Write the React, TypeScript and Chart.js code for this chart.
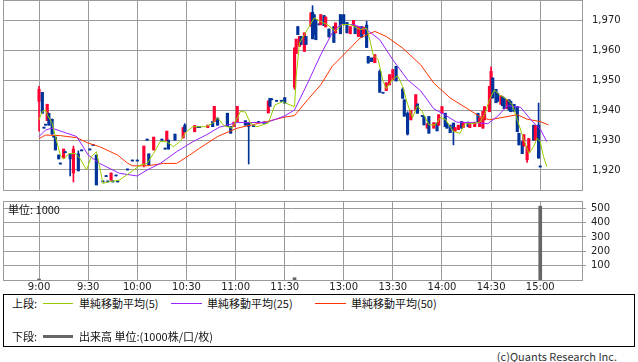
import React, { useEffect, useRef } from 'react';
import { Chart, registerables } from 'chart.js';

Chart.register(...registerables);

// x values are trading-minute indexes: 0 = 9:00 ... 150 = 11:30, 156 = 12:30 ... 306 = 15:00
const timeTickMin = [0, 30, 60, 90, 120, 150, 186, 216, 246, 276, 306];
const timeTickLabels = ['9:00', '9:30', '10:00', '10:30', '11:00', '11:30', '13:00', '13:30', '14:00', '14:30', '15:00'];
const priceTicks = [1920, 1930, 1940, 1950, 1960, 1970];
const volumeTicks = [100, 200, 300, 400, 500];

const candleMin = [
  0, 2, 3, 4, 5, 6, 8, 9, 10, 12, 13, 15, 16, 19, 21, 24, 26, 31, 33, 35,
  39, 41, 42, 44, 45, 47, 48, 54, 57, 60, 64, 66, 67, 70, 75, 77, 78, 79, 83, 88,
  89, 95, 97, 98, 103, 106, 107, 109, 115, 117, 119, 121, 126, 128, 131, 134, 137, 138, 140, 141,
  142, 145, 148, 150,
  156, 157, 158, 159, 160, 162, 163, 166, 167, 168, 169, 171, 172, 174, 175, 177, 180, 181, 184, 186,
  188, 190, 192, 193, 195, 197, 198, 200, 201, 203, 205, 208, 210, 212, 214, 216, 218, 222, 223, 225,
  227, 230, 231, 234, 235, 237, 238, 241, 243, 244, 246, 248, 249, 251, 253, 254, 256, 258, 259, 262,
  263, 266, 268, 269, 271, 272, 275, 276, 277, 279, 280, 282, 283, 284, 286, 287, 288, 290, 292, 293,
  295, 296, 298, 299, 302, 303, 305, 306,
];
const candleOpen = [
  1943, 1946, 1934, 1935, 1936.5, 1939, 1937, 1931, 1931, 1925,
  1922, 1924, 1925.8, 1925.4, 1919, 1925.4, 1926.4, 1926.7, 1928.2, 1925,
  1916, 1917.8, 1916, 1916.6, 1916, 1918, 1916, 1920, 1923, 1923,
  1921.7, 1930, 1925.4, 1926.7, 1930, 1927, 1929.8, 1930, 1932, 1930.7,
  1935, 1932.8, 1934.2, 1934.2, 1934.2, 1936.2, 1936.2, 1937.4, 1939, 1934.5,
  1934.5, 1936.2, 1936.5, 1935.7, 1934.5, 1935.9, 1935.7, 1935.7, 1939.1, 1944,
  1943.5, 1943, 1943, 1944.2,
  1947.7, 1959, 1968, 1961.4, 1964.7, 1959.7, 1964.7, 1968.1, 1972.8, 1972,
  1970.3, 1968.6, 1968.6, 1971.7, 1967.9, 1967.2, 1968, 1965.9, 1972, 1972,
  1969.4, 1965.6, 1968.3, 1968, 1964.7, 1968, 1965.5, 1968.5, 1958, 1957.5,
  1955.9, 1953, 1945.7, 1946.6, 1948.5, 1950.2, 1954.7, 1947, 1943.5, 1939,
  1936.8, 1940, 1942.1, 1937.9, 1937.9, 1934, 1937.9, 1934, 1935.8, 1935,
  1939, 1939, 1935.5, 1935, 1935.7, 1933, 1933.5, 1936.2, 1934.2, 1936,
  1934.2, 1934.5, 1939, 1934.5, 1934, 1936.8, 1939.5, 1944, 1950.8, 1947,
  1945.7, 1942, 1944.5, 1944.1, 1940.5, 1943.5, 1943, 1942, 1941.2, 1932.3,
  1929.5, 1928, 1923.4, 1926, 1935, 1930, 1935, 1921,
];
const candleHigh = [
  1948, 1946, 1934, 1935, 1942, 1939, 1937, 1931, 1931, 1925,
  1922, 1927, 1925.8, 1925.4, 1928, 1926.4, 1926.4, 1926.7, 1928.2, 1925,
  1916, 1917.8, 1916, 1919, 1916, 1918, 1916, 1920, 1923, 1923,
  1928, 1930, 1925.4, 1931, 1930, 1927, 1933, 1930, 1932, 1934.2,
  1935.5, 1934.9, 1934.2, 1934.2, 1935, 1936.2, 1941.3, 1937.4, 1939, 1934.5,
  1936, 1941.3, 1936.5, 1936, 1934.5, 1935.9, 1935.7, 1935.7, 1943.1, 1944,
  1943.5, 1943, 1943, 1944.2,
  1961, 1963.8, 1968, 1964.7, 1964.7, 1965.9, 1964.7, 1972.6, 1975, 1972,
  1970.3, 1968.6, 1972, 1971.7, 1971.2, 1967.2, 1968, 1969.2, 1972, 1972,
  1969.4, 1968, 1970.1, 1968, 1968, 1968, 1967.8, 1969.8, 1958, 1957.5,
  1958.6, 1953.5, 1945.7, 1949.2, 1951.9, 1953.6, 1954.7, 1947.5, 1943.5, 1939.5,
  1940, 1945.2, 1942.1, 1937.9, 1937.9, 1935.5, 1937.9, 1935.8, 1935.8, 1938.5,
  1941.2, 1939, 1935.5, 1935, 1935.7, 1934.2, 1935, 1936.2, 1935.8, 1936,
  1935.5, 1936, 1939, 1937.4, 1939.6, 1941.2, 1948, 1954.5, 1950.8, 1947,
  1945.7, 1944.8, 1944.5, 1944.1, 1943.5, 1943.5, 1943, 1942, 1941.2, 1932.3,
  1929.5, 1931.8, 1927.8, 1930.5, 1935, 1934.8, 1942.4, 1921,
];
const candleLow = [
  1933, 1939, 1934, 1935, 1936.5, 1935, 1932, 1931, 1926.7, 1923.7,
  1922, 1924, 1925.8, 1918, 1916, 1919.7, 1926.4, 1926.7, 1928.2, 1915,
  1916, 1917.8, 1916, 1916.6, 1916, 1918, 1916, 1920, 1923, 1923,
  1921, 1930, 1921.7, 1926.7, 1930, 1927, 1929.8, 1927, 1930, 1930.7,
  1932.8, 1932.8, 1934.2, 1934.2, 1934.2, 1934.5, 1936.2, 1935, 1934.5, 1932.3,
  1934.5, 1936.2, 1935, 1922, 1934.5, 1935.9, 1935.7, 1935.7, 1939.1, 1941.3,
  1943.5, 1943, 1943, 1942.4,
  1947, 1959, 1965.3, 1961.4, 1962, 1959.7, 1962, 1968.1, 1963.9, 1965.3,
  1963.6, 1968.6, 1968.6, 1968.3, 1967.9, 1964.5, 1962.7, 1965.9, 1965.6, 1968.6,
  1965.9, 1965.6, 1968.3, 1965.6, 1964.7, 1964.5, 1965.5, 1961, 1955.8, 1956.3,
  1955.9, 1946, 1945.7, 1946.6, 1948.5, 1950.2, 1949.8, 1944, 1938, 1931.7,
  1936.8, 1940, 1939, 1937.9, 1935.1, 1934, 1932.3, 1934, 1933.1, 1935,
  1939, 1934.5, 1934, 1932.5, 1928.4, 1933, 1933.5, 1934, 1934.2, 1934.5,
  1934.2, 1934.5, 1936.2, 1934.5, 1934, 1936.8, 1939.5, 1944, 1944.1, 1942.5,
  1943, 1942, 1941.5, 1940.5, 1940.5, 1940, 1939.5, 1939.6, 1932.8, 1928.4,
  1925.5, 1928, 1922.5, 1926, 1930, 1930, 1923.9, 1921,
];
const candleClose = [
  1947, 1939, 1934, 1935, 1942, 1935, 1932, 1931, 1926.7, 1923.7,
  1922, 1927, 1925.8, 1923.7, 1927, 1919.7, 1926.4, 1926.7, 1928.2, 1915,
  1916, 1917.8, 1916, 1919, 1916, 1918, 1916, 1920, 1923, 1923,
  1928, 1930, 1921.7, 1931, 1930, 1927, 1933, 1927, 1930, 1934.2,
  1932.8, 1934.9, 1934.2, 1934.2, 1935, 1934.5, 1941.3, 1935, 1934.5, 1932.3,
  1936, 1941.3, 1935, 1934.5, 1934.5, 1935.9, 1935.7, 1935.7, 1943.1, 1941.3,
  1943.5, 1943, 1943, 1942.4,
  1960.8, 1963.8, 1965.3, 1964.7, 1962, 1965.9, 1962, 1972.6, 1963.9, 1965.3,
  1963.6, 1968.6, 1972, 1968.3, 1971.2, 1964.5, 1962.7, 1969.2, 1965.6, 1968.6,
  1965.9, 1968, 1970.1, 1965.6, 1968, 1964.5, 1967.8, 1961, 1955.8, 1956.3,
  1958.6, 1946, 1945.7, 1949.2, 1951.9, 1953.6, 1949.8, 1944, 1938, 1932,
  1940, 1945.2, 1939, 1937.9, 1935.1, 1935.5, 1932.3, 1935.8, 1933.1, 1938.5,
  1941.2, 1934.5, 1934, 1932.5, 1933.5, 1934.2, 1935, 1934, 1935.8, 1934.5,
  1935.5, 1936, 1936.2, 1937.4, 1939.6, 1941.2, 1948, 1953, 1944.1, 1942.5,
  1943, 1944.8, 1941.5, 1940.5, 1943.5, 1940, 1939.5, 1939.6, 1932.8, 1928.4,
  1925.5, 1931.8, 1927.8, 1930.5, 1930, 1934.8, 1924, 1921,
];

const ma5Min = [
  0, 2, 4, 5, 8, 10, 13, 15, 18, 22, 25, 29, 32, 35, 37, 39, 43, 49, 55, 62,
  66, 70, 74, 78, 82, 86, 90, 94, 102, 106, 109, 113, 118, 123, 126, 129, 133, 140, 144, 149,
  150, 156, 157, 159, 162, 165, 168, 173, 176, 181, 185, 190, 196, 200, 202, 204, 207, 210, 212, 216,
  219, 222, 225, 228, 231, 234, 238, 242, 245, 248, 253, 257, 260, 264, 269, 272, 275, 278, 281, 286,
  289, 292, 296, 299, 302, 304, 306, 308, 310,
];
const ma5Val = [
  1936.8, 1939.6, 1940.1, 1938.5, 1935.7, 1931.2, 1925, 1923.6, 1925.4, 1925.6,
  1923.9, 1920, 1924.5, 1926.1, 1921.1, 1915.5, 1916.1, 1916.6, 1918.9, 1921.7,
  1922.2, 1925.6, 1929.5, 1929.5, 1927.8, 1929.5, 1932.8, 1934.5, 1934.5, 1935.7,
  1937.5, 1934.8, 1934, 1939.6, 1939.4, 1935.7, 1934.5, 1935.7, 1941.8, 1942.9,
  1942.5, 1941.2, 1951.3, 1962.5, 1965.3, 1968.1, 1970.9, 1969.4, 1968.7, 1966.4,
  1968.7, 1968.7, 1967, 1967.5, 1963.5, 1958.5, 1957, 1949.8, 1947.2, 1950.5,
  1951.5, 1948, 1942, 1937.5, 1941.5, 1939.5, 1935.1, 1935.1, 1937.5, 1937,
  1932.9, 1932.3, 1935.4, 1935.5, 1935.9, 1938.5, 1943.5, 1946.8, 1945.2, 1943.5,
  1941.8, 1936.8, 1930.1, 1925.6, 1927.8, 1930.6, 1929.5, 1924.5, 1921.1,
];
const ma25Min = [
  0, 4, 8, 17, 23, 30, 37, 49, 60, 66, 74, 84, 94, 102, 110, 121, 139, 150, 156, 164,
  172, 179, 184, 192, 200, 208, 216, 225, 233, 241, 247, 255, 267, 274, 280, 286, 294, 300, 306, 310,
];
const ma25Val = [
  1931.2, 1933.4, 1934, 1932.3, 1931.2, 1925, 1922.2, 1918.9, 1918, 1920,
  1922.2, 1926.1, 1929.5, 1931.7, 1934.3, 1935.9, 1935.9, 1938.1, 1940.1, 1949.1,
  1958.6, 1965.9, 1968.7, 1968.7, 1967, 1963.6, 1956.9, 1950.2, 1946.5, 1940.5,
  1938.7, 1936, 1935.8, 1935.5, 1938, 1941.5, 1941, 1937, 1933.7, 1929.5,
];
const ma50Min = [
  0, 4, 13, 23, 30, 37, 48, 54, 57, 66, 76, 84, 92, 98, 109, 121, 139, 150, 156, 164,
  172, 179, 188, 196, 205, 212, 222, 233, 241, 251, 261, 269, 275, 281, 292, 298, 306, 311,
];
const ma50Val = [
  1930.5, 1931.7, 1931.5, 1930.8, 1929, 1927.8, 1925, 1922.3, 1921.4, 1921.4,
  1922.2, 1922.2, 1925, 1927.3, 1931.2, 1934, 1936.2, 1937.7, 1938.2, 1943.5,
  1948.5, 1954.7, 1959.7, 1964.2, 1966.4, 1964.7, 1960.8, 1955.2, 1949.1, 1944.1,
  1940.7, 1937.9, 1936.8, 1937.4, 1938.5, 1937, 1936.2, 1935.1,
];

const volumeMin = [0, 156, 306];
const volumeValue = [7, 16, 515];

const X_MIN = -22;
const X_MAX = 331.5;
const UP = '#ff0033';
const DOWN = '#003399';
const GRID = '#9a9a9a';
const TICK_FONT = { family: '"DejaVu Sans", sans-serif', size: 10 };
const TEXT_FONT = '"Noto Sans CJK JP", "Noto Sans", sans-serif';

const toPoints = (xs: number[], ys: number[]) => xs.map((x, i) => ({ x, y: ys[i] }));

const frame = {
  id: 'frame',
  afterDatasetsDraw(chart: any) {
    const { left, top, right, bottom } = chart.chartArea;
    const ctx = chart.ctx;
    ctx.save();
    ctx.strokeStyle = GRID;
    ctx.lineWidth = 1;
    const l = Math.round(left) + 0.5;
    const t = Math.round(top) + 0.5;
    ctx.strokeRect(l, t, Math.round(right) - Math.round(left), Math.round(bottom) - Math.round(top));
    ctx.restore();
  },
};

// vertical axis: the labels sit well inside the plot, so no extra edge room is needed
const fitRightAxis = (s: any) => {
  s.width = 56;
  s.paddingTop = 0;
  s.paddingBottom = 0;
};

function PriceChart() {
  const ref = useRef<HTMLCanvasElement>(null);
  useEffect(() => {
    const colors = candleMin.map((_, i) => (candleClose[i] > candleOpen[i] ? UP : DOWN));
    const chart = new Chart(ref.current as HTMLCanvasElement, {
      type: 'bar',
      data: {
        datasets: [
          { type: 'line', label: 'MA5', data: toPoints(ma5Min, ma5Val), borderColor: '#99cc00', borderWidth: 1, pointRadius: 0, order: 1 } as any,
          { type: 'line', label: 'MA25', data: toPoints(ma25Min, ma25Val), borderColor: '#9922ff', borderWidth: 1, pointRadius: 0, order: 1 } as any,
          { type: 'line', label: 'MA50', data: toPoints(ma50Min, ma50Val), borderColor: '#ff3300', borderWidth: 1, pointRadius: 0, order: 1 } as any,
          {
            type: 'bar', label: 'wick',
            data: candleMin.map((m, i) => ({ x: m, y: [candleLow[i], candleHigh[i]] })),
            backgroundColor: colors, barThickness: 1, grouped: false, minBarLength: 1, order: 3,
          } as any,
          {
            type: 'bar', label: 'body',
            data: candleMin.map((m, i) => ({ x: m, y: [candleOpen[i], candleClose[i]] })),
            backgroundColor: colors, barThickness: 2.5, grouped: false, minBarLength: 1, order: 2,
          } as any,
        ],
      },
      options: {
        responsive: false,
        animation: false,
        events: [],
        layout: { padding: { left: 3, top: 0, right: 0, bottom: 1 } },
        plugins: { legend: { display: false }, tooltip: { enabled: false } },
        scales: {
          x: {
            type: 'linear', min: X_MIN, max: X_MAX, offset: false,
            afterBuildTicks: (s: any) => { s.ticks = timeTickMin.map((v) => ({ value: v })); },
            afterFit: (s: any) => { s.height = 0; },
            ticks: { display: false },
            grid: { color: GRID, drawTicks: false, offset: false },
            border: { display: false },
          },
          y: {
            position: 'right', min: 1913.3, max: 1976.9, offset: false,
            afterBuildTicks: (s: any) => { s.ticks = priceTicks.map((v) => ({ value: v })); },
            afterFit: fitRightAxis,
            ticks: { padding: 10, color: '#222', font: TICK_FONT, callback: (v: any) => Number(v).toLocaleString('en-US') },
            grid: { color: GRID, drawTicks: false, offset: false },
            border: { display: false },
          },
        },
      } as any,
      plugins: [frame],
    });
    return () => chart.destroy();
  }, []);
  return <canvas ref={ref} width={638} height={191} style={{ position: 'absolute', left: 0, top: 0 }} />;
}

function VolumeChart() {
  const ref = useRef<HTMLCanvasElement>(null);
  useEffect(() => {
    const chart = new Chart(ref.current as HTMLCanvasElement, {
      type: 'bar',
      data: {
        datasets: [
          { label: '出来高', data: toPoints(volumeMin, volumeValue), backgroundColor: '#666666', barThickness: 3 } as any,
        ],
      },
      options: {
        responsive: false,
        animation: false,
        events: [],
        layout: { padding: { left: 3, top: 9, right: 0, bottom: 0 } },
        plugins: { legend: { display: false }, tooltip: { enabled: false } },
        scales: {
          x: {
            type: 'linear', min: X_MIN, max: X_MAX, offset: false,
            afterBuildTicks: (s: any) => { s.ticks = timeTickMin.map((v) => ({ value: v })); },
            afterFit: (s: any) => { s.height = 14; s.paddingLeft = 0; s.paddingRight = 0; },
            ticks: {
              padding: 1, autoSkip: false, maxRotation: 0, color: '#222', font: TICK_FONT,
              callback: (v: any) => timeTickLabels[timeTickMin.indexOf(Number(v))] ?? '',
            },
            grid: { color: GRID, drawTicks: false, offset: false },
            border: { display: false },
          },
          y: {
            position: 'right', min: 0, max: 551, offset: false,
            afterBuildTicks: (s: any) => { s.ticks = volumeTicks.map((v) => ({ value: v })); },
            afterFit: fitRightAxis,
            ticks: { padding: 5, color: '#222', font: TICK_FONT },
            grid: { color: GRID, drawTicks: true, tickLength: 4, offset: false },
            border: { display: false },
          },
        },
      } as any,
      plugins: [frame],
    });
    return () => chart.destroy();
  }, []);
  return <canvas ref={ref} width={638} height={102} style={{ position: 'absolute', left: 0, top: 192 }} />;
}

const textStyle = (left: number, centerY: number): React.CSSProperties => ({
  position: 'absolute', left, top: centerY - 8, height: 16, lineHeight: '16px',
  fontFamily: TEXT_FONT, fontSize: 11, color: '#111', whiteSpace: 'nowrap',
});

const lineStyle = (left: number, y: number, width: number, color: string, h = 1): React.CSSProperties => ({
  position: 'absolute', left, top: y, width, height: h, background: color,
});

export default function App() {
  return (
    <div style={{ position: 'absolute', left: 0, top: 0, width: 638, height: 362, background: '#fff', overflow: 'hidden' }}>
      <PriceChart />
      <VolumeChart />
      <div style={textStyle(8, 209)}>単位: 1000</div>
      <div style={{ position: 'absolute', left: 3, top: 294, width: 632, height: 53, border: '1px solid #000', boxSizing: 'border-box' }} />
      <div style={textStyle(12, 303)}>上段:</div>
      <div style={lineStyle(43, 303, 30, '#99cc00')} />
      <div style={textStyle(79, 303)}>単純移動平均(5)</div>
      <div style={lineStyle(171, 303, 31, '#9922ff')} />
      <div style={textStyle(207, 303)}>単純移動平均(25)</div>
      <div style={lineStyle(315, 303, 31, '#ff3300')} />
      <div style={textStyle(351, 303)}>単純移動平均(50)</div>
      <div style={textStyle(12, 336)}>下段:</div>
      <div style={lineStyle(43, 335, 30, '#666666', 3)} />
      <div style={textStyle(79, 336)}>出来高 単位:(1000株/口/枚)</div>
      <div style={{ ...textStyle(0, 356), left: undefined, right: 21, color: '#333' }}>(c)Quants Research Inc.</div>
    </div>
  );
}
